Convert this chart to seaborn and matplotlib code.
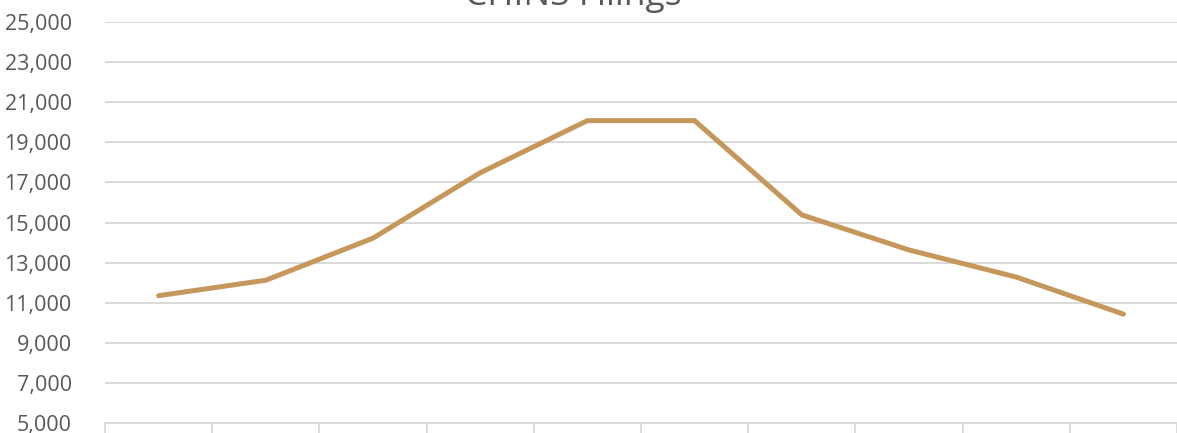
import matplotlib
matplotlib.use("Agg")
import matplotlib.pyplot as plt
import matplotlib.ticker as mticker
import seaborn as sns
import pandas as pd

# Annual CHINS filings
years = ["2009", "2010", "2011", "2012", "2013", "2014", "2015", "2016", "2017", "2018"]
filings = [11350, 12120, 14220, 17480, 20080, 20080, 15380, 13630, 12280, 10430]

y_ticks = list(range(5000, 25001, 2000))
title = "CHINS Filings"

line_color = "#C5975A"
grid_color = "#D9D9D9"
text_color = "#595959"

sns.set_theme(style="white")
plt.rcParams["font.family"] = ["Open Sans", "DejaVu Sans"]

W, H, DPI = 1177, 433, 100
fig = plt.figure(figsize=(W / DPI, H / DPI), dpi=DPI)
ax = fig.add_axes([105 / W, 1 - 423 / H, 1 - 105 / W, (423 - 22) / H])

df = pd.DataFrame({"year": years, "filings": filings})
sns.lineplot(data=df, x="year", y="filings", ax=ax, color=line_color,
             linewidth=3.6, sort=False, solid_capstyle="round", solid_joinstyle="miter")

ax.set_xlim(-0.5, len(years) - 0.5)
ax.set_ylim(y_ticks[0], y_ticks[-1])
ax.set_yticks(y_ticks)
ax.yaxis.set_major_formatter(mticker.FuncFormatter(lambda v, _: f"{int(v):,}"))
ax.tick_params(axis="y", labelsize=15.5, labelcolor=text_color, length=0, pad=24)

# category boundaries carry the tick marks; no visible labels
ax.set_xticks([i - 0.5 for i in range(len(years) + 1)])
ax.set_xticklabels([])
ax.tick_params(axis="x", bottom=True, length=14, width=1.3, color=grid_color,
               direction="out")

ax.grid(axis="y", color=grid_color, linewidth=1.4)
ax.grid(axis="x", visible=False)
for side in ["top", "right", "left"]:
    ax.spines[side].set_visible(False)
ax.spines["bottom"].set_color(grid_color)
ax.spines["bottom"].set_linewidth(1.4)
ax.set_xlabel("")
ax.set_ylabel("")
ax.set_axisbelow(True)

fig.text(573 / W, 1 - 5 / H, title, ha="center", va="baseline",
         fontsize=25.5, color=text_color)

fig.savefig("out.png", dpi=DPI, facecolor="white")
